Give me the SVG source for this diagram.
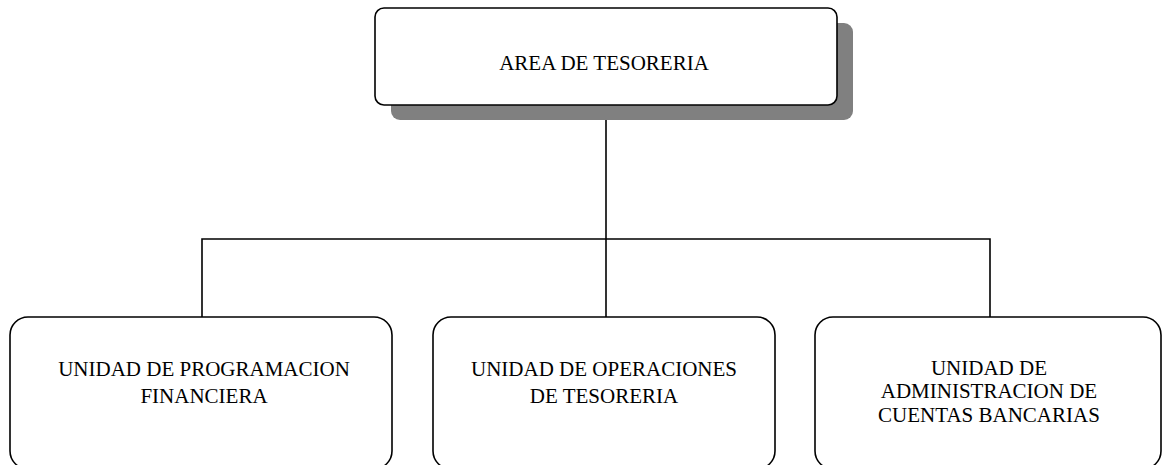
<svg xmlns="http://www.w3.org/2000/svg" width="1163" height="465" viewBox="0 0 1163 465">
<style>
.box{fill:#fff;stroke:#000;stroke-width:1.6}
.shadow{fill:#808080;stroke:none}
.lbl{font-family:"Liberation Serif","Times New Roman",serif;font-size:21px;fill:#000;text-anchor:middle}
.conn{stroke:#000;stroke-width:1.6;fill:none}
</style>
<rect width="1163" height="465" fill="#fff"/>
<g id="connectors">
<line class="conn" x1="606" y1="105" x2="606" y2="317"/>
<polyline class="conn" points="202,317 202,239 990,239 990,317"/>
</g>
<g id="area-tesoreria">
<rect class="shadow" x="391" y="23" width="462" height="97" rx="9"/>
<rect class="box" x="375" y="8" width="462" height="97" rx="9"/>
<text class="lbl" x="604" y="70">AREA DE TESORERIA</text>
</g>
<g id="unidad-programacion">
<rect class="box" x="10" y="317" width="382" height="152" rx="18"/>
<text class="lbl" x="204" y="376">UNIDAD DE PROGRAMACION</text>
<text class="lbl" x="204" y="403">FINANCIERA</text>
</g>
<g id="unidad-operaciones">
<rect class="box" x="433" y="317" width="342" height="152" rx="18"/>
<text class="lbl" x="604" y="376">UNIDAD DE OPERACIONES</text>
<text class="lbl" x="604" y="403">DE TESORERIA</text>
</g>
<g id="unidad-administracion">
<rect class="box" x="815" y="317" width="346" height="152" rx="18"/>
<text class="lbl" x="989" y="375">UNIDAD DE</text>
<text class="lbl" x="989" y="398">ADMINISTRACION DE</text>
<text class="lbl" x="989" y="422">CUENTAS BANCARIAS</text>
</g>
</svg>
